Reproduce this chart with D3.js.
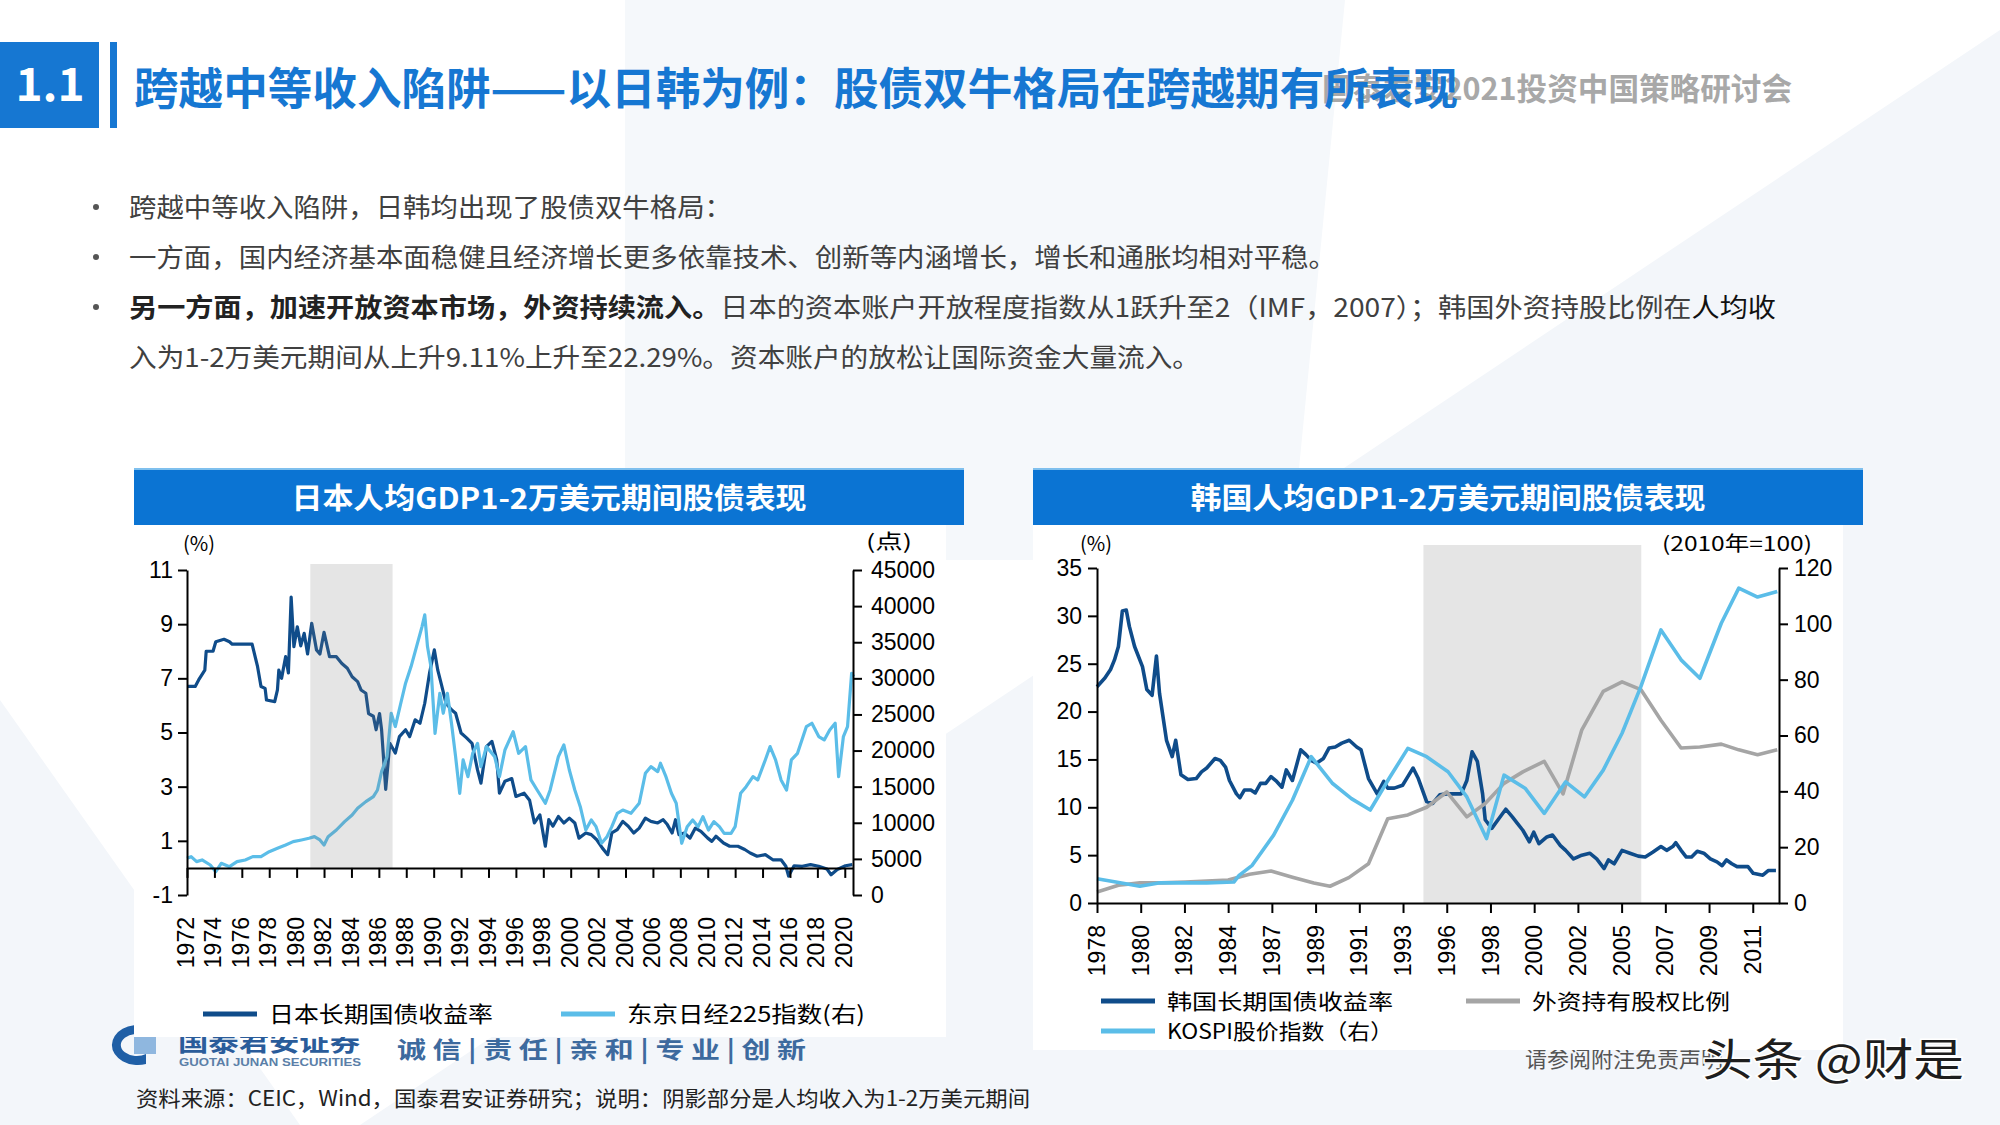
<!DOCTYPE html>
<html>
<head>
<meta charset="utf-8">
<script src="https://cdn.jsdelivr.net/npm/d3@7"></script>
<style>
  body { margin: 0; background: #fff; }
  svg { display: block; }
</style>
</head>
<body>
<div class="slide"></div>
<script>
// ---------- data ----------
// Japan: 10y JGB yield (%), left axis
const jpBondYield = [
  [1972.0,6.7],[1972.6,6.7],[1972.85,6.94],[1973.3,7.3],[1973.4,8.0],[1973.9,8.0],[1974.1,8.35],
  [1974.7,8.44],[1975.1,8.35],[1975.3,8.26],[1976.75,8.26],[1977.15,7.43],[1977.4,6.7],[1977.7,6.63],
  [1977.8,6.2],[1978.4,6.14],[1978.6,6.57],[1978.7,7.3],[1978.9,7.0],[1979.2,7.8],[1979.4,7.2],
  [1979.6,10.0],[1979.8,8.17],[1980.05,8.9],[1980.3,8.2],[1980.55,8.66],[1980.8,7.9],[1981.1,9.03],
  [1981.45,8.05],[1981.7,7.9],[1982.0,8.7],[1982.4,7.8],[1982.9,7.8],[1983.3,7.55],[1983.7,7.37],
  [1984.05,7.06],[1984.45,6.88],[1984.7,6.57],[1985.05,6.45],[1985.25,5.7],[1985.6,5.6],[1985.8,5.1],
  [1986.05,5.7],[1986.2,5.1],[1986.5,2.9],[1986.8,4.6],[1987.2,4.24],[1987.5,4.85],[1987.95,5.1],
  [1988.25,4.85],[1988.65,5.47],[1989.0,5.34],[1989.35,6.08],[1989.7,7.2],[1990.05,8.05],[1990.3,7.3],
  [1990.6,6.7],[1990.9,6.08],[1991.3,5.84],[1991.6,5.71],[1992.0,4.98],[1992.4,4.8],[1992.8,4.6],
  [1993.2,3.62],[1993.45,3.13],[1993.85,4.48],[1994.25,4.67],[1994.6,4.0],[1994.8,2.76],[1995.2,3.2],
  [1995.7,3.3],[1996.0,2.64],[1996.6,2.76],[1997.0,2.5],[1997.35,1.66],[1997.75,1.96],[1998.15,0.8],
  [1998.4,1.78],[1998.7,1.54],[1999.1,1.9],[1999.5,1.66],[1999.9,1.84],[2000.3,1.66],[2000.6,1.1],
  [2001.1,1.29],[2001.5,1.23],[2001.9,1.04],[2002.3,0.74],[2002.7,0.49],[2003.0,1.29],[2003.4,1.41],
  [2003.8,1.72],[2004.2,1.54],[2004.6,1.29],[2005.0,1.47],[2005.45,1.84],[2005.85,1.72],[2006.35,1.66],
  [2006.75,1.78],[2007.05,1.6],[2007.4,1.29],[2007.65,1.78],[2007.9,1.23],[2008.3,1.29],[2008.7,1.1],
  [2009.1,1.47],[2009.5,1.35],[2010.0,1.1],[2010.3,0.98],[2010.6,1.17],[2011.15,0.92],[2011.6,0.8],
  [2012.2,0.8],[2012.7,0.68],[2013.1,0.55],[2013.6,0.43],[2014.2,0.49],[2014.75,0.3],[2015.35,0.3],
  [2015.7,0.06],[2015.9,-0.3],[2016.3,0.08],[2016.9,0.06],[2017.5,0.12],[2018.1,0.06],[2018.7,-0.04],
  [2019.0,-0.25],[2019.45,-0.06],[2020.05,0.08],[2020.55,0.12]
];
// Japan: Nikkei 225 (points), right axis
const jpNikkei = [
  [1972.0,5080],[1972.3,5310],[1972.7,4620],[1973.1,4850],[1973.7,4155],[1974.1,3230],[1974.5,4390],
  [1975.1,3925],[1975.65,4620],[1976.25,4850],[1976.8,5310],[1977.4,5310],[1978.0,6000],[1978.6,6460],
  [1979.2,6925],[1979.75,7390],[1980.35,7620],[1980.9,7850],[1981.3,8080],[1981.7,7620],[1982.0,6925],
  [1982.3,8080],[1982.9,9000],[1983.5,10160],[1984.05,11080],[1984.45,12000],[1985.05,12930],
  [1985.6,13620],[1985.9,14540],[1986.2,17080],[1986.6,19160],[1986.9,25160],[1987.2,23320],
  [1987.6,26550],[1987.95,29320],[1988.35,31630],[1988.75,34400],[1989.15,37170],[1989.35,38780],
  [1989.55,34400],[1989.8,31630],[1990.1,22390],[1990.45,27930],[1990.7,25160],[1991.0,27930],
  [1991.3,23780],[1991.6,19160],[1991.9,14080],[1992.15,18700],[1992.5,16390],[1992.85,19620],
  [1993.2,21000],[1993.45,17770],[1993.85,20550],[1994.45,19160],[1994.8,16390],[1995.2,20080],
  [1995.8,22620],[1996.2,19620],[1996.7,20550],[1997.1,15930],[1997.55,14540],[1998.15,12700],
  [1998.5,14540],[1999.1,19160],[1999.5,20780],[1999.9,17310],[2000.3,14540],[2000.7,12230],
  [2001.1,9000],[2001.5,10390],[2001.85,9460],[2002.25,7160],[2002.65,8080],[2003.0,9460],
  [2003.4,11310],[2003.8,11770],[2004.4,11310],[2005.0,12700],[2005.45,16850],[2005.85,17770],
  [2006.35,17080],[2006.55,18240],[2006.95,16390],[2007.35,14080],[2007.7,12700],[2008.1,7160],
  [2008.5,9460],[2008.9,10390],[2009.3,9460],[2009.65,10850],[2010.05,9000],[2010.45,10160],
  [2010.85,9460],[2011.2,8540],[2011.7,8540],[2012.0,9460],[2012.4,14080],[2012.8,15000],
  [2013.3,16390],[2013.65,15930],[2014.2,18700],[2014.55,20550],[2014.95,18700],[2015.35,15930],
  [2015.75,14540],[2016.1,18700],[2016.55,19620],[2017.2,23320],[2017.6,23780],[2018.1,21940],
  [2018.5,21470],[2018.9,22850],[2019.3,23780],[2019.55,16390],[2019.9,21940],[2020.2,23320],
  [2020.5,30700],[2020.65,30240]
];
const jpShade = [1981, 1987];
const jpYearTicks = [1972,1974,1976,1978,1980,1982,1984,1986,1988,1990,1992,1994,1996,1998,
                     2000,2002,2004,2006,2008,2010,2012,2014,2016,2018,2020];
const jpLeftTicks = [-1, 1, 3, 5, 7, 9, 11];
const jpRightTicks = [0,5000,10000,15000,20000,25000,30000,35000,40000,45000];

// Korea: long-term government bond yield (%), left axis
const krBondYield = [
  [1978.0,22.6],[1978.36,23.5],[1978.62,24.4],[1978.8,25.4],[1978.98,26.8],[1979.16,30.5],[1979.34,30.6],
  [1979.48,28.9],[1979.72,26.8],[1980.08,24.7],[1980.28,22.3],[1980.52,21.7],[1980.72,25.8],[1980.86,21.9],
  [1981.18,17.0],[1981.44,15.3],[1981.6,17.0],[1981.84,13.4],[1982.16,12.9],[1982.54,13.0],[1982.78,13.7],
  [1983.02,14.1],[1983.4,15.1],[1983.64,14.9],[1983.88,14.2],[1984.09,12.8],[1984.57,11.4],[1984.81,11.0],
  [1985.11,11.8],[1985.56,11.8],[1985.86,11.5],[1986.22,12.5],[1986.58,12.5],[1986.94,13.2],[1987.22,12.7],
  [1987.46,12.1],[1987.66,13.9],[1987.94,12.8],[1988.32,16.0],[1988.56,15.5],[1988.8,14.9],[1989.04,14.6],
  [1989.36,15.1],[1989.62,16.2],[1989.9,16.3],[1990.2,16.7],[1990.54,17.0],[1990.88,16.3],[1991.08,16.0],
  [1991.42,13.0],[1991.82,11.4],[1992.12,12.7],[1992.3,12.0],[1992.6,12.0],[1992.98,12.3],[1993.33,13.2],
  [1993.69,14.1],[1994.05,13.0],[1994.62,10.6],[1995.04,10.4],[1995.52,11.3],[1996.0,11.4],[1996.3,11.4],
  [1996.66,11.4],[1996.92,12.8],[1997.16,15.8],[1997.4,14.8],[1997.64,11.4],[1997.76,8.7],[1998.06,7.8],
  [1998.38,8.8],[1998.7,9.8],[1999.0,9.0],[1999.24,8.3],[1999.48,7.6],[1999.78,6.4],[1999.98,7.4],
  [2000.22,6.2],[2000.58,6.9],[2000.84,7.1],[2001.2,6.0],[2001.44,5.5],[2001.8,4.6],[2002.27,5.0],
  [2002.81,5.2],[2003.29,4.6],[2003.8,3.6],[2004.1,4.5],[2004.49,4.1],[2005.02,5.5],[2005.38,5.2],
  [2005.76,4.9],[2006.08,4.8],[2006.42,5.3],[2006.8,5.9],[2007.06,5.5],[2007.34,5.9],[2007.48,6.3],
  [2007.72,5.5],[2007.96,4.8],[2008.2,4.8],[2008.46,5.4],[2008.76,5.2],[2009.06,4.6],[2009.36,4.3],
  [2009.6,3.9],[2009.8,4.5],[2010.04,4.1],[2010.28,3.8],[2010.78,3.8],[2011.02,3.1],[2011.46,2.9],
  [2011.72,3.4],[2012.06,3.4]
];
// Korea: foreign share of equity holdings (%), left axis
const krForeignShare = [
  [1978.0,1.15],[1978.98,1.85],[1979.96,2.1],[1980.94,2.1],[1982.04,2.2],[1983.02,2.3],[1984.0,2.4],
  [1985.47,3.0],[1986.94,3.35],[1987.94,2.7],[1988.92,2.1],[1989.66,1.75],[1990.52,2.65],[1991.42,4.1],
  [1992.3,8.8],[1993.33,9.2],[1994.62,10.0],[1996.0,11.6],[1996.92,9.0],[1997.76,10.4],[1998.62,12.5],
  [1999.48,13.7],[2000.46,14.8],[2001.32,11.4],[2002.27,18.1],[2003.74,22.1],[2005.02,23.1],
  [2005.88,22.3],[2006.8,19.1],[2007.72,16.2],[2008.58,16.3],[2009.56,16.6],[2010.36,16.0],
  [2011.22,15.5],[2012.12,16.0]
];
// Korea: KOSPI index (2010 = 100), right axis
const krKospi = [
  [1978.0,8.7],[1978.86,7.5],[1979.96,6.0],[1980.82,7.2],[1982.04,7.2],[1983.02,7.2],[1984.39,7.5],
  [1984.75,9.9],[1985.65,13.5],[1987.08,24.3],[1987.94,36.8],[1988.8,52.4],[1989.78,42.8],[1990.64,37.4],
  [1991.5,33.3],[1992.36,44.6],[1993.33,55.4],[1994.62,52.4],[1996.06,47.0],[1996.92,38.0],[1997.82,23.1],
  [1998.62,45.8],[1999.6,41.0],[2000.46,32.1],[2001.44,43.4],[2002.45,38.0],[2003.74,47.6],[2005.02,60.8],
  [2005.88,77.5],[2006.8,97.8],[2007.72,87.1],[2008.58,80.5],[2009.56,100.2],[2010.36,112.8],
  [2011.22,109.6],[2012.12,111.6]
];
const krShade = [1994.4, 2005.9];
const krYearLabels = [1978,1980,1982,1984,1987,1989,1991,1993,1996,1998,2000,2002,2005,2007,2009,2011];
const krLeftTicks = [0,5,10,15,20,25,30,35];
const krRightTicks = [0,20,40,60,80,100,120];

// ---------- drawing ----------
const W = 2000, H = 1125;
const CJK = "'Noto Sans CJK SC', 'Noto Sans', sans-serif";
const NUM = "'Liberation Sans', Arial, sans-serif";
const BLUE = "#1677d2", DARK = "#0f4c8a", LIGHT = "#5bbde8", GREY = "#a5a5a5";

const svg = d3.select("div.slide").append("svg")
  .attr("width", W).attr("height", H)
  .attr("viewBox", `0 0 ${W} ${H}`);

// background shapes
svg.append("rect").attr("width", W).attr("height", H).attr("fill", "#ffffff");
svg.append("path").attr("d", "M625,0 L1345,0 L1290,560 L625,560 Z").attr("fill", "#f5f8fb");
svg.append("path").attr("d", "M360,1125 L2000,30 L2000,1125 Z").attr("fill", "#f3f6fa");
svg.append("path").attr("d", "M0,700 L300,1125 L0,1125 Z").attr("fill", "#f3f6fa");

// page title
svg.append("text").attr("x", 1322).attr("y", 100)
  .attr("font-family", CJK).attr("font-weight", 700).attr("font-size", 31)
  .attr("fill", "#a8a8a8").attr("textLength", 470).attr("lengthAdjust", "spacingAndGlyphs")
  .text("国泰君安2021投资中国策略研讨会");
svg.append("rect").attr("x", 0).attr("y", 42).attr("width", 99).attr("height", 86).attr("fill", BLUE);
svg.append("rect").attr("x", 110).attr("y", 42).attr("width", 7).attr("height", 86).attr("fill", BLUE);
svg.append("text").attr("x", 50).attr("y", 101).attr("text-anchor", "middle")
  .attr("font-family", CJK).attr("font-weight", 700).attr("font-size", 46).attr("fill", "#fff")
  .text("1.1");
svg.append("text").attr("x", 134).attr("y", 105)
  .attr("font-family", CJK).attr("font-weight", 700).attr("font-size", 44).attr("fill", BLUE)
  .attr("textLength", 1324).attr("lengthAdjust", "spacingAndGlyphs")
  .text("跨越中等收入陷阱——以日韩为例：股债双牛格局在跨越期有所表现");

// bullet text
const bullets = [
  {y: 217, dot: true, len: 603, parts: [["跨越中等收入陷阱，日韩均出现了股债双牛格局：", 400, "#404040"]]},
  {y: 267, dot: true, len: 1207, parts: [["一方面，国内经济基本面稳健且经济增长更多依靠技术、创新等内涵增长，增长和通胀均相对平稳。", 400, "#404040"]]},
  {y: 317, dot: true, len: 1647, parts: [
    ["另一方面，加速开放资本市场，外资持续流入。", 700, "#222"],
    ["日本的资本账户开放程度指数从1跃升至2（IMF，2007）；韩国外资持股比例在", 400, "#404040"],
    ["人均收", 400, "#111"]]},
  {y: 367, dot: false, len: 1071, parts: [["入为1-2万美元期间从上升9.11%上升至22.29%。资本账户的放松让国际资金大量流入。", 400, "#404040"]]}
];
bullets.forEach(b => {
  if (b.dot) svg.append("circle").attr("cx", 96).attr("cy", b.y - 10).attr("r", 3).attr("fill", "#555");
  const t = svg.append("text").attr("x", 129).attr("y", b.y)
    .attr("font-family", CJK).attr("font-size", 26)
    .attr("textLength", b.len).attr("lengthAdjust", "spacingAndGlyphs");
  b.parts.forEach(p => t.append("tspan").attr("font-weight", p[1]).attr("fill", p[2]).text(p[0]));
});

// footer (partly covered by the chart panels)
const logo = svg.append("g");
logo.append("path").attr("d", "M146,1026 A26,20 0 1 0 146,1064 L146,1054 A16,11 0 1 1 146,1036 Z").attr("fill", "#1f5fa6");
logo.append("rect").attr("x", 134).attr("y", 1036).attr("width", 22).attr("height", 18).attr("fill", "#8fb7df");
logo.append("text").attr("x", 178).attr("y", 1051).attr("font-family", CJK).attr("font-weight", 700)
  .attr("font-size", 24).attr("fill", "#2a5c9a").attr("textLength", 182).attr("lengthAdjust", "spacingAndGlyphs")
  .text("国泰君安证券");
logo.append("text").attr("x", 179).attr("y", 1066).attr("font-family", NUM).attr("font-weight", 700)
  .attr("font-size", 11.5).attr("fill", "#5b7fa8").attr("textLength", 182).attr("lengthAdjust", "spacingAndGlyphs")
  .text("GUOTAI JUNAN SECURITIES");
svg.append("text").attr("x", 397).attr("y", 1058).attr("font-family", CJK).attr("font-weight", 700)
  .attr("font-size", 23).attr("fill", "#3d6a9e").attr("textLength", 409).attr("lengthAdjust", "spacingAndGlyphs")
  .attr("xml:space", "preserve")
  .text("诚 信 | 责 任 | 亲 和 | 专 业 | 创 新");
svg.append("text").attr("x", 1525).attr("y", 1067).attr("font-family", CJK)
  .attr("font-size", 22).attr("fill", "#555")
  .text("请参阅附注免责声明");
svg.append("text").attr("x", 136).attr("y", 1106).attr("font-family", CJK)
  .attr("font-size", 21).attr("fill", "#222").attr("textLength", 894).attr("lengthAdjust", "spacingAndGlyphs")
  .text("资料来源：CEIC，Wind，国泰君安证券研究；说明：阴影部分是人均收入为1-2万美元期间");

// chart panels
svg.append("rect").attr("x", 134).attr("y", 524).attr("width", 812).attr("height", 513).attr("fill", "#fff");
svg.append("rect").attr("x", 1033).attr("y", 524).attr("width", 810).attr("height", 526).attr("fill", "#fff");

function header(x0, x1, title) {
  svg.append("rect").attr("x", x0).attr("y", 468).attr("width", x1 - x0).attr("height", 57).attr("fill", "#0b74d3");
  svg.append("rect").attr("x", x0).attr("y", 468).attr("width", x1 - x0).attr("height", 2).attr("fill", "#7fc0ee");
  svg.append("text").attr("x", (x0 + x1) / 2).attr("y", 509).attr("text-anchor", "middle")
    .attr("font-family", CJK).attr("font-weight", 700).attr("font-size", 29).attr("fill", "#fff")
    .attr("textLength", 515).attr("lengthAdjust", "spacingAndGlyphs")
    .text(title);
}
header(134, 964, "日本人均GDP1-2万美元期间股债表现");
header(1033, 1863, "韩国人均GDP1-2万美元期间股债表现");

function styleAxis(g) {
  g.select(".domain").attr("stroke", "#000").attr("stroke-width", 2);
  g.selectAll(".tick line").attr("stroke", "#000").attr("stroke-width", 2);
  g.selectAll(".tick text").attr("font-family", NUM).attr("font-size", 23).attr("fill", "#000");
}

function unitLabel(x, y, txt, len) {
  svg.append("text").attr("x", x).attr("y", y).attr("text-anchor", "middle")
    .attr("font-family", CJK).attr("font-size", 20).attr("fill", "#000")
    .attr("textLength", len).attr("lengthAdjust", "spacingAndGlyphs").text(txt);
}

function legendItem(x, y, color, label, len, size) {
  svg.append("line").attr("x1", x).attr("x2", x + 54).attr("y1", y).attr("y2", y)
    .attr("stroke", color).attr("stroke-width", 5);
  svg.append("text").attr("x", x + 66).attr("y", y + 8)
    .attr("font-family", CJK).attr("font-size", size || 23).attr("fill", "#000")
    .attr("textLength", len).attr("lengthAdjust", "spacingAndGlyphs").text(label);
}

// ---------- Japan chart ----------
const jx = d3.scaleLinear().domain([1972, 2020.6]).range([187, 853]);
const jyL = d3.scaleLinear().domain([-1, 11]).range([895, 570]);
const jyR = d3.scaleLinear().domain([0, 45000]).range([895, 570]);

const jLineL = d3.line().x(d => jx(d[0])).y(d => jyL(d[1]));
const jLineR = d3.line().x(d => jx(d[0])).y(d => jyR(d[1]));

svg.append("path").attr("d", jLineL(jpBondYield)).attr("fill", "none")
  .attr("stroke", DARK).attr("stroke-width", 3.2).attr("stroke-linejoin", "round");
svg.append("path").attr("d", jLineR(jpNikkei)).attr("fill", "none")
  .attr("stroke", LIGHT).attr("stroke-width", 3.2).attr("stroke-linejoin", "round");
// shaded period sits over the lines, slightly see-through
svg.append("rect").attr("x", jx(jpShade[0])).attr("y", 564)
  .attr("width", jx(jpShade[1]) - jx(jpShade[0])).attr("height", jyL(0) - 564)
  .attr("fill", "#7f7f7f").attr("fill-opacity", 0.2);

svg.append("g").attr("transform", `translate(${jx(1972)},0)`)
  .call(d3.axisLeft(jyL).tickValues(jpLeftTicks).tickSize(9).tickSizeOuter(0).tickPadding(5)
    .tickFormat(d => d < 0 ? "-" + Math.abs(d) : d))
  .call(styleAxis);
svg.append("g").attr("transform", `translate(${jx.range()[1]},0)`)
  .call(d3.axisRight(jyR).tickValues(jpRightTicks).tickSize(9).tickSizeOuter(0).tickPadding(9)
    .tickFormat(d3.format("d")))
  .call(styleAxis);
svg.append("g").attr("transform", `translate(0,${jyL(0)})`)
  .call(d3.axisBottom(jx).tickValues(jpYearTicks).tickSize(10).tickSizeOuter(0).tickFormat(""))
  .call(styleAxis);
svg.append("g").selectAll("text").data(jpYearTicks).join("text")
  .attr("transform", d => `translate(${jx(d) - 1},917) rotate(-90)`)
  .attr("text-anchor", "end").attr("dy", "0.35em")
  .attr("font-family", NUM).attr("font-size", 23).attr("fill", "#000")
  .text(d => d);

unitLabel(199, 551, "(%)", 32);
unitLabel(889, 549, "(点)", 46);
legendItem(203, 1014, DARK, "日本长期国债收益率", 224, 22);
legendItem(561, 1014, LIGHT, "东京日经225指数(右)", 238, 22);

// ---------- Korea chart ----------
const kLeft = 1097, kRight = 1779, kEnd = 15.6;
const kStep = (kRight - kLeft) / kEnd;
const kDomain = krYearLabels.concat([2012.2]);
const kx = d3.scaleLinear().domain(kDomain)
  .range(kDomain.map((d, i) => kLeft + (i < krYearLabels.length ? i : kEnd) * kStep));
const kyL = d3.scaleLinear().domain([0, 35]).range([903, 568]);
const kyR = d3.scaleLinear().domain([0, 120]).range([903, 568]);

svg.append("rect").attr("x", kx(krShade[0])).attr("y", 545)
  .attr("width", kx(krShade[1]) - kx(krShade[0])).attr("height", kyL(0) - 545)
  .attr("fill", "#e5e5e5");

const kLineL = d3.line().x(d => kx(d[0])).y(d => kyL(d[1]));
const kLineR = d3.line().x(d => kx(d[0])).y(d => kyR(d[1]));
svg.append("path").attr("d", kLineL(krBondYield)).attr("fill", "none")
  .attr("stroke", DARK).attr("stroke-width", 3.6).attr("stroke-linejoin", "round");
svg.append("path").attr("d", kLineL(krForeignShare)).attr("fill", "none")
  .attr("stroke", GREY).attr("stroke-width", 3.6).attr("stroke-linejoin", "round");
svg.append("path").attr("d", kLineR(krKospi)).attr("fill", "none")
  .attr("stroke", LIGHT).attr("stroke-width", 3.6).attr("stroke-linejoin", "round");

svg.append("g").attr("transform", `translate(${kLeft},0)`)
  .call(d3.axisLeft(kyL).tickValues(krLeftTicks).tickSize(9).tickSizeOuter(0).tickPadding(6))
  .call(styleAxis);
svg.append("g").attr("transform", `translate(${kRight},0)`)
  .call(d3.axisRight(kyR).tickValues(krRightTicks).tickSize(9).tickSizeOuter(0).tickPadding(6))
  .call(styleAxis);
svg.append("g").attr("transform", `translate(0,${kyL(0)})`)
  .call(d3.axisBottom(kx).tickValues(krYearLabels).tickSize(10).tickSizeOuter(0).tickFormat(""))
  .call(styleAxis);
svg.append("g").selectAll("text").data(krYearLabels).join("text")
  .attr("transform", d => `translate(${kx(d)},925) rotate(-90)`)
  .attr("text-anchor", "end").attr("dy", "0.35em")
  .attr("font-family", NUM).attr("font-size", 23).attr("fill", "#000")
  .text(d => d);

unitLabel(1096, 551, "(%)", 32);
unitLabel(1737, 551, "(2010年=100)", 150);
legendItem(1101, 1001, DARK, "韩国长期国债收益率", 226, 21);
legendItem(1466, 1001, GREY, "外资持有股权比例", 198, 21);
legendItem(1101, 1031, LIGHT, "KOSPI股价指数（右）", 226, 21);

// watermark
svg.append("text").attr("x", 1702).attr("y", 1076)
  .attr("font-family", CJK).attr("font-size", 44).attr("fill", "#1e1e1e")
  .attr("stroke", "#fff").attr("stroke-width", 3).attr("paint-order", "stroke")
  .attr("textLength", 262).attr("lengthAdjust", "spacingAndGlyphs")
  .text("头条 @财是");
</script>
</body>
</html>
